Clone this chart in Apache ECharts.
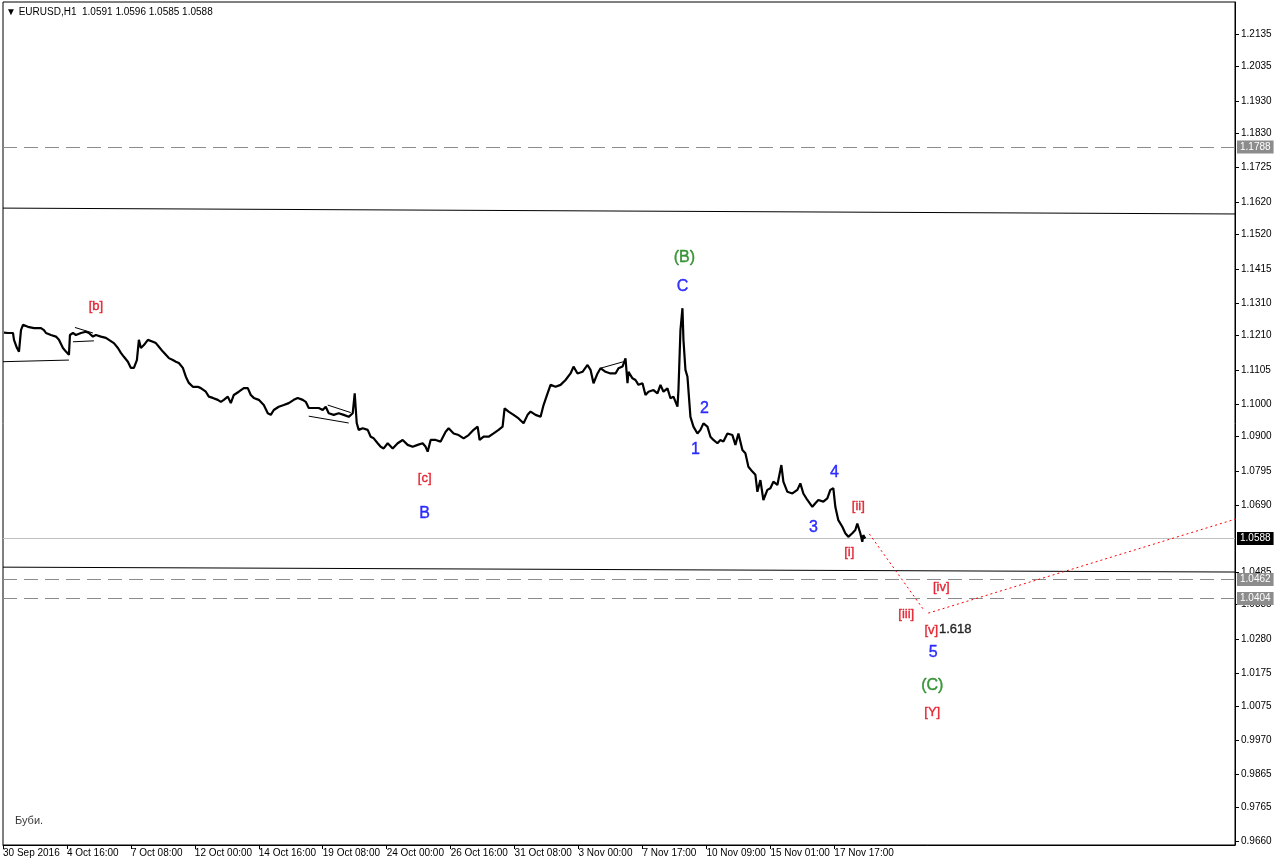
<!DOCTYPE html>
<html><head><meta charset="utf-8">
<script src="https://cdn.jsdelivr.net/npm/echarts@6/dist/echarts.min.js"></script>
<style>html,body{margin:0;padding:0;background:#fff}#c{width:1276px;height:866px}</style>
</head><body><div id="c"></div>
<script>
// ---- data (bar index = hourly bar counted from 30 Sep 2016 00:00) ----
const xTickIdx = [0,64,128,192,256,320,384,448,512,576,640,704,768,832];
const xTickLabels = ['30 Sep 2016','4 Oct 16:00','7 Oct 08:00','12 Oct 00:00','14 Oct 16:00','19 Oct 08:00','24 Oct 00:00','26 Oct 16:00','31 Oct 08:00','3 Nov 00:00','7 Nov 17:00','10 Nov 09:00','15 Nov 01:00','17 Nov 17:00'];
const yTickValues = [1.2135,1.2035,1.1930,1.1830,1.1725,1.1620,1.1520,1.1415,1.1310,1.1210,1.1105,1.1000,1.0900,1.0795,1.0690,1.0485,1.0385,1.0280,1.0175,1.0075,0.9970,0.9865,0.9765,0.9660];

const closes = [
[1,1.1219],[5,1.1218],[10,1.1218],[11,1.1197],[14,1.1172],[16,1.1161],[18,1.1227],[20,1.1243],[25,1.1237],[31,1.1233],
[38,1.1233],[41,1.1227],[43,1.1218],[48,1.1212],[53,1.1207],[56,1.1197],[60,1.1172],[63,1.1161],[66,1.1151],[67,1.1212],
[70,1.1218],[73,1.1212],[78,1.1218],[83,1.1222],[86,1.1218],[90,1.1207],[93,1.1212],[98,1.1207],[103,1.1203],[106,1.1197],
[111,1.1187],[115,1.1172],[118,1.1157],[121,1.1145],[125,1.1130],[128,1.1111],[131,1.1111],[134,1.1135],[136,1.1197],[138,1.1172],
[141,1.1181],[145,1.1197],[150,1.1191],[153,1.1187],[156,1.1176],[160,1.1161],[163,1.1151],[166,1.1141],[170,1.1135],[173,1.1130],
[176,1.1126],[180,1.1111],[183,1.1084],[186,1.1065],[190,1.1053],[195,1.1053],[198,1.1049],[203,1.1038],[206,1.1023],[210,1.1019],
[215,1.1013],[218,1.1007],[221,1.1013],[225,1.1023],[228,1.1003],[231,1.1028],[236,1.1038],[241,1.1049],[245,1.1049],[248,1.1028],
[251,1.1019],[256,1.1013],[261,1.0997],[265,1.0972],[268,1.0967],[271,1.0982],[276,1.0992],[281,1.0997],[286,1.1003],[291,1.1013],
[295,1.1019],[300,1.1013],[303,1.1007],[306,1.0988],[311,1.0988],[316,1.0988],[320,1.0982],[323,1.0992],[326,1.0972],[331,1.0967],
[336,1.0972],[341,1.0967],[346,1.0961],[350,1.0972],[352,1.1033],[354,1.0942],[356,1.0921],[360,1.0926],[365,1.0921],[368,1.0900],
[371,1.0895],[375,1.0880],[378,1.0869],[381,1.0864],[385,1.0880],[390,1.0864],[395,1.0880],[400,1.0890],[405,1.0875],[410,1.0869],
[415,1.0875],[420,1.0880],[423,1.0869],[425,1.0854],[428,1.0890],[433,1.0890],[438,1.0885],[443,1.0915],[446,1.0926],[451,1.0910],
[456,1.0905],[461,1.0895],[466,1.0905],[471,1.0921],[475,1.0931],[477,1.0890],[481,1.0900],[486,1.0900],[491,1.0910],[496,1.0921],
[500,1.0931],[502,1.0987],[506,1.0977],[511,1.0967],[516,1.0956],[521,1.0941],[525,1.0967],[528,1.0977],[533,1.0967],[538,1.0961],
[541,1.0997],[545,1.1033],[548,1.1059],[553,1.1053],[558,1.1059],[563,1.1074],[568,1.1094],[571,1.1115],[575,1.1094],[580,1.1099],
[585,1.1120],[588,1.1105],[591,1.1064],[595,1.1094],[598,1.1110],[603,1.1099],[608,1.1094],[613,1.1094],[616,1.1110],[620,1.1115],
[623,1.1140],[625,1.1064],[626,1.1099],[630,1.1079],[633,1.1074],[636,1.1059],[640,1.1064],[643,1.1028],[646,1.1038],[651,1.1043],
[655,1.1033],[658,1.1059],[661,1.1038],[665,1.1048],[668,1.1018],[671,1.1023],[675,1.0992],[676,1.1043],[678,1.1227],[680,1.1294],
[681,1.1197],[683,1.1105],[685,1.1084],[686,1.1043],[688,1.0961],[691,1.0931],[695,1.0910],[698,1.0921],[701,1.0941],[705,1.0931],
[708,1.0900],[711,1.0890],[715,1.0880],[718,1.0890],[721,1.0885],[725,1.0910],[730,1.0905],[733,1.0875],[736,1.0910],[740,1.0859],
[743,1.0849],[746,1.0808],[750,1.0793],[753,1.0783],[755,1.0731],[758,1.0767],[761,1.0706],[765,1.0737],[768,1.0742],[771,1.0762],
[775,1.0752],[779,1.0813],[781,1.0762],[785,1.0731],[790,1.0726],[795,1.0737],[798,1.0757],[801,1.0726],[805,1.0706],[810,1.0685],
[813,1.0696],[816,1.0706],[821,1.0701],[825,1.0711],[828,1.0737],[831,1.0742],[833,1.0685],[836,1.0644],[840,1.0624],[843,1.0604],
[846,1.0593],[850,1.0604],[853,1.0614],[855,1.0634],[858,1.0604],[860,1.0578],[861,1.0598],[863,1.0588]
];

const bidPrice = 1.0588;
const dashedLevels = [1.1788, 1.0462, 1.0404];
const channelUpper = [[0,1.1601],[1233,1.1583]];
const channelLower = [[0,1.0500],[1233,1.0485]];
const smallLines = [
  [[0,1.1130],[66,1.1135]],
  [[72,1.1235],[90,1.1218]],
  [[70,1.1191],[91,1.1194]],
  [[325,1.0997],[348,1.0974]],
  [[306,1.0963],[346,1.0942]],
  [[598,1.1110],[621,1.1130]]
];
const projection1 = [[867,1.0602],[921,1.0371]];
const projection2 = [[926,1.0359],[1263,1.0675]];

// annotations: text, bar index, price, colour kind
const annotations = [
  ['[b]',93,1.1298,'red'],['(B)',682,1.1448,'green'],['C',680,1.1359,'blue'],
  ['[c]',422,1.0773,'red'],['B',422,1.0663,'blue'],['2',702,1.0985,'blue'],
  ['1',693,1.0862,'blue'],['4',832,1.0789,'blue'],['3',811,1.0620,'blue'],
  ['[ii]',856,1.0687,'red'],['[i]',847,1.0546,'red'],['[iv]',939,1.0439,'red'],
  ['[iii]',904,1.0356,'red'],['[v]',929,1.0307,'red'],['1.618',953,1.0310,'black'],
  ['5',931,1.0237,'blue'],['(C)',930,1.0138,'green'],['[Y]',930,1.0056,'red']
];
const noteText = ['Буби.', 12, 0.9721];

// ---- chart ----
const FONT = 'Liberation Sans, Arial, sans-serif';
const colorMap = {red:'#e00010', green:'#108010', blue:'#0000ff', black:'#000000'};
const sizeMap = {red:13, green:16, blue:16, black:13};

const chart = echarts.init(document.getElementById('c'), null, {renderer:'canvas'});

const series = [];
series.push({
  type:'line', data: closes, showSymbol:false, symbol:'none', animation:false, z:5,
  lineStyle:{color:'#000', width:2.2},
  markLine:{
    silent:true, symbol:['none','none'], animation:false, precision:4,
    data: [
      ...dashedLevels.map(v => ({
        yAxis:v,
        lineStyle:{color:'#8c8c8c', type:[14,7], width:1},
        label:{show:true, position:'end', distance:2, formatter:v.toFixed(4), color:'#fff',
               backgroundColor:'#8c8c8c', padding:[2,3,1,3], fontSize:10, fontFamily:FONT}
      })),
      {
        yAxis:bidPrice,
        lineStyle:{color:'#c0c0c0', type:'solid', width:1},
        label:{show:true, position:'end', distance:2, formatter:bidPrice.toFixed(4), color:'#fff',
               backgroundColor:'#000', padding:[2,3,1,3], fontSize:10, fontFamily:FONT}
      }
    ]
  }
});
[channelUpper, channelLower].forEach(d => series.push({
  type:'line', data:d, showSymbol:false, symbol:'none', animation:false, z:4,
  lineStyle:{color:'#000', width:1}
}));
smallLines.forEach(d => series.push({
  type:'line', data:d, showSymbol:false, symbol:'none', animation:false, z:4,
  lineStyle:{color:'#000', width:1}
}));
[projection1, projection2].forEach(d => series.push({
  type:'line', data:d, showSymbol:false, symbol:'none', animation:false, z:6, clip:false,
  lineStyle:{color:'#ff0000', width:1, type:[2,3]}
}));
series.push({
  type:'scatter', symbolSize:0, animation:false, z:7, silent:true,
  data: annotations.map(a => ({
    value:[a[1], a[2]], name:a[0],
    label:{show:true, position:'inside', formatter:a[0], color:colorMap[a[3]],
           fontSize:sizeMap[a[3]], fontFamily:FONT,
           textBorderColor:colorMap[a[3]], textBorderWidth:0.4}
  })).concat([{
    value:[noteText[1], noteText[2]], name:noteText[0],
    label:{show:true, position:'right', distance:0, formatter:noteText[0], color:'#000',
           fontSize:11, fontFamily:FONT}
  }])
});

chart.setOption({
  animation:false,
  backgroundColor:'#fff',
  title:{
    text:'▼ EURUSD,H1  1.0591 1.0596 1.0585 1.0588', left:1, top:2,
    textStyle:{fontSize:10, fontWeight:'normal', fontFamily:FONT, color:'#000'}
  },
  grid:{left:2, right:41, top:2, bottom:21, show:true, borderColor:'#000', borderWidth:1, backgroundColor:'#fff'},
  xAxis:{
    type:'value', min:0, max:1233,
    splitLine:{show:false},
    axisLine:{show:true, onZero:false, lineStyle:{color:'#000'}},
    axisTick:{show:true, length:4, customValues:xTickIdx, lineStyle:{color:'#000'}},
    axisLabel:{show:true, customValues:xTickIdx, align:'left', margin:3, fontSize:10, fontFamily:FONT, color:'#000',
      formatter: v => { const i = xTickIdx.indexOf(Math.round(v)); return i >= 0 ? xTickLabels[i] : ''; }}
  },
  yAxis:{
    type:'value', position:'right', min:0.9648, max:1.2233,
    splitLine:{show:false},
    axisLine:{show:true, onZero:false, lineStyle:{color:'#000'}},
    axisTick:{show:true, length:4, customValues:yTickValues, lineStyle:{color:'#000'}},
    axisLabel:{show:true, customValues:yTickValues, margin:6, fontSize:10, fontFamily:FONT, color:'#000',
      formatter: v => v.toFixed(4)}
  },
  series: series
});
</script>
</body></html>
